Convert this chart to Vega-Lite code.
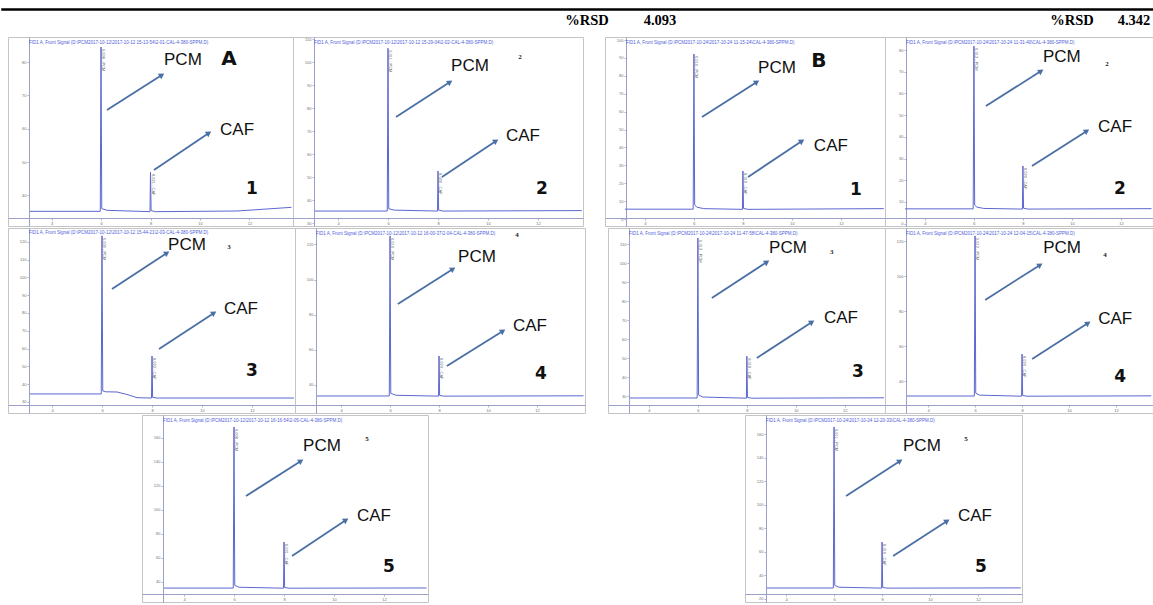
{
  "$schema": "https://vega.github.io/schema/vega-lite/v6.json",
  "padding": {"left": 0, "top": 8, "right": 0, "bottom": 0},
  "spacing": 0,
  "config": {
    "view": {"stroke": "#c4c4c4", "strokeWidth": 1},
    "concat": {"spacing": 0},
    "font": "Liberation Sans",
    "title": {"anchor": "start", "offset": -7, "dx": 21, "fontSize": 4.5, "fontWeight": "normal", "color": "#5060d8", "font": "Liberation Sans"},
    "axis": {"grid": false, "tickSize": 2, "labelFontSize": 4, "labelColor": "#707070", "domainColor": "#9ba0c9", "tickColor": "#9ba0c9", "labelPadding": 1, "domainWidth": 1, "tickWidth": 0.8},
    "axisX": {"offset": -8},
    "axisY": {"offset": -21},
    "scale": {"zero": false}
  },
  "datasets": {
    "d": [
      {"k":"h","c":"r","g":"A","t":"%RSD"},{"k":"h","c":"v","g":"A","t":"4.093"},{"k":"h","c":"r","g":"B","t":"%RSD"},{"k":"h","c":"v","g":"B","t":"4.342"},

      {"p":"A1","k":"c","x":3.13,"y":35.2},{"p":"A1","k":"c","x":5.97,"y":35.2},{"p":"A1","k":"c","x":6.0,"y":84.5,"lab":"6.008 - PCM"},{"p":"A1","k":"c","x":6.03,"y":36.0},{"p":"A1","k":"c","x":6.25,"y":35.5},{"p":"A1","k":"c","x":7.98,"y":35.1},{"p":"A1","k":"c","x":8.0,"y":47,"lab":"8.021 - CAF"},{"p":"A1","k":"c","x":8.025,"y":35.4},{"p":"A1","k":"c","x":8.2,"y":35.1},{"p":"A1","k":"c","x":11.5,"y":35.3},{"p":"A1","k":"c","x":13.7,"y":36.4},
      {"p":"A1","k":"a","x":6.24,"y":65.6,"x2":8.46,"y2":76.1},{"p":"A1","k":"a","x":8.14,"y":47.6,"x2":10.36,"y2":58.7},
      {"p":"A1","k":"l","t":"PCM","x":9.31,"y":80.6},{"p":"A1","k":"l","t":"CAF","x":11.5,"y":59.6},{"p":"A1","k":"b","t":"A","x":11.17,"y":80.9},{"p":"A1","k":"b","t":"1","x":12.1,"y":41.9},

      {"p":"A2","k":"c","x":3.08,"y":35.2},{"p":"A2","k":"c","x":5.97,"y":35.2},{"p":"A2","k":"c","x":6.0,"y":106,"lab":"6.011 - PCM"},{"p":"A2","k":"c","x":6.03,"y":36.2},{"p":"A2","k":"c","x":6.25,"y":35.6},{"p":"A2","k":"c","x":7.98,"y":35.2},{"p":"A2","k":"c","x":8.0,"y":52.6,"lab":"8.024 - CAF"},{"p":"A2","k":"c","x":8.025,"y":35.6},{"p":"A2","k":"c","x":8.2,"y":35.2},{"p":"A2","k":"c","x":13.75,"y":35.4},
      {"p":"A2","k":"a","x":6.32,"y":76.1,"x2":8.48,"y2":91.3},{"p":"A2","k":"a","x":8.16,"y":50.0,"x2":10.32,"y2":65.7},
      {"p":"A2","k":"l","t":"PCM","x":9.28,"y":98.1},{"p":"A2","k":"l","t":"CAF","x":11.4,"y":67.9},{"p":"A2","k":"s","t":"2","x":11.28,"y":102.2},{"p":"A2","k":"b","t":"2","x":12.16,"y":44.8},

      {"p":"B1","k":"c","x":3.19,"y":5.5},{"p":"B1","k":"c","x":5.97,"y":5.5},{"p":"B1","k":"c","x":6.0,"y":92.2,"lab":"6.014 - PCM"},{"p":"B1","k":"c","x":6.03,"y":8.0},{"p":"B1","k":"c","x":6.12,"y":6.6},{"p":"B1","k":"c","x":6.4,"y":5.8},{"p":"B1","k":"c","x":7.98,"y":5.4},{"p":"B1","k":"c","x":8.0,"y":26.8,"lab":"8.019 - CAF"},{"p":"B1","k":"c","x":8.025,"y":5.9},{"p":"B1","k":"c","x":8.2,"y":5.4},{"p":"B1","k":"c","x":13.75,"y":5.8},
      {"p":"B1","k":"a","x":6.33,"y":57.0,"x2":8.57,"y2":76.6},{"p":"B1","k":"a","x":8.21,"y":23.5,"x2":10.41,"y2":43.6},
      {"p":"B1","k":"l","t":"PCM","x":9.39,"y":84.4},{"p":"B1","k":"l","t":"CAF","x":11.59,"y":40.8},{"p":"B1","k":"b","t":"B","x":11.1,"y":88.3},{"p":"B1","k":"b","t":"1","x":12.61,"y":16.2},

      {"p":"B2","k":"c","x":3.19,"y":6.8},{"p":"B2","k":"c","x":5.97,"y":6.8},{"p":"B2","k":"c","x":6.0,"y":81.8,"lab":"6.012 - PCM"},{"p":"B2","k":"c","x":6.03,"y":8.6},{"p":"B2","k":"c","x":6.12,"y":7.6},{"p":"B2","k":"c","x":6.4,"y":7.0},{"p":"B2","k":"c","x":7.98,"y":6.7},{"p":"B2","k":"c","x":8.0,"y":26.6,"lab":"8.020 - CAF"},{"p":"B2","k":"c","x":8.025,"y":7.1},{"p":"B2","k":"c","x":8.2,"y":6.7},{"p":"B2","k":"c","x":13.25,"y":6.9},
      {"p":"B2","k":"a","x":6.49,"y":54.2,"x2":8.74,"y2":70.3},{"p":"B2","k":"a","x":8.37,"y":26.6,"x2":10.61,"y2":42.7},
      {"p":"B2","k":"l","t":"PCM","x":9.59,"y":77.0},{"p":"B2","k":"l","t":"CAF","x":11.76,"y":44.5},{"p":"B2","k":"s","t":"2","x":11.43,"y":73.6},{"p":"B2","k":"b","t":"2","x":11.96,"y":16.0},

      {"p":"A3","k":"c","x":3.12,"y":34.5},{"p":"A3","k":"c","x":5.97,"y":34.5},{"p":"A3","k":"c","x":6.0,"y":123.3,"lab":"6.009 - PCM"},{"p":"A3","k":"c","x":6.03,"y":36.2},{"p":"A3","k":"c","x":6.15,"y":35.7},{"p":"A3","k":"c","x":6.6,"y":35.6},{"p":"A3","k":"c","x":7.0,"y":34.2},{"p":"A3","k":"c","x":7.4,"y":32.4},{"p":"A3","k":"c","x":7.98,"y":32.2},{"p":"A3","k":"c","x":8.0,"y":55.8,"lab":"8.022 - CAF"},{"p":"A3","k":"c","x":8.025,"y":32.6},{"p":"A3","k":"c","x":8.2,"y":32.2},{"p":"A3","k":"c","x":13.68,"y":32.2},
      {"p":"A3","k":"a","x":6.4,"y":93.5,"x2":8.6,"y2":113.7},{"p":"A3","k":"a","x":8.28,"y":59.8,"x2":10.48,"y2":80.0},
      {"p":"A3","k":"l","t":"PCM","x":9.4,"y":118.2},{"p":"A3","k":"l","t":"CAF","x":11.56,"y":82.2},{"p":"A3","k":"s","t":"3","x":11.08,"y":117.1},{"p":"A3","k":"b","t":"3","x":12.0,"y":47.4},

      {"p":"A4","k":"c","x":3.02,"y":33.7},{"p":"A4","k":"c","x":5.97,"y":33.7},{"p":"A4","k":"c","x":6.0,"y":124.9,"lab":"6.010 - PCM"},{"p":"A4","k":"c","x":6.03,"y":35.2},{"p":"A4","k":"c","x":6.25,"y":34.1},{"p":"A4","k":"c","x":7.98,"y":33.6},{"p":"A4","k":"c","x":8.0,"y":56.5,"lab":"8.023 - CAF"},{"p":"A4","k":"c","x":8.025,"y":34.0},{"p":"A4","k":"c","x":8.2,"y":33.6},{"p":"A4","k":"c","x":13.9,"y":33.8},
      {"p":"A4","k":"a","x":6.32,"y":86.1,"x2":8.57,"y2":106.1},{"p":"A4","k":"a","x":8.32,"y":50.8,"x2":10.61,"y2":70.7},
      {"p":"A4","k":"l","t":"PCM","x":9.55,"y":112.9},{"p":"A4","k":"l","t":"CAF","x":11.71,"y":73.6},{"p":"A4","k":"s","t":"4","x":11.18,"y":125.4},{"p":"A4","k":"b","t":"4","x":12.16,"y":46.2},

      {"p":"B3","k":"c","x":3.22,"y":29},{"p":"B3","k":"c","x":5.97,"y":29},{"p":"B3","k":"c","x":6.0,"y":113.2,"lab":"6.013 - PCM"},{"p":"B3","k":"c","x":6.03,"y":30.6},{"p":"B3","k":"c","x":6.2,"y":29.5},{"p":"B3","k":"c","x":7.98,"y":28.9},{"p":"B3","k":"c","x":8.0,"y":51,"lab":"8.018 - CAF"},{"p":"B3","k":"c","x":8.025,"y":29.3},{"p":"B3","k":"c","x":8.2,"y":28.9},{"p":"B3","k":"c","x":13.6,"y":29.1},
      {"p":"B3","k":"a","x":6.57,"y":81.6,"x2":8.82,"y2":100.6},{"p":"B3","k":"a","x":8.41,"y":50.1,"x2":10.66,"y2":69.0},
      {"p":"B3","k":"l","t":"PCM","x":9.68,"y":108.0},{"p":"B3","k":"l","t":"CAF","x":11.84,"y":71.1},{"p":"B3","k":"s","t":"3","x":11.47,"y":105.8},{"p":"B3","k":"b","t":"3","x":12.53,"y":42.7},

      {"p":"B4","k":"c","x":3.1,"y":31.7},{"p":"B4","k":"c","x":5.97,"y":31.7},{"p":"B4","k":"c","x":6.0,"y":123.2,"lab":"6.012 - PCM"},{"p":"B4","k":"c","x":6.03,"y":33.3},{"p":"B4","k":"c","x":6.2,"y":32.2},{"p":"B4","k":"c","x":7.98,"y":31.6},{"p":"B4","k":"c","x":8.0,"y":55.7,"lab":"8.020 - CAF"},{"p":"B4","k":"c","x":8.025,"y":32.0},{"p":"B4","k":"c","x":8.2,"y":31.6},{"p":"B4","k":"c","x":13.5,"y":31.8},
      {"p":"B4","k":"a","x":6.43,"y":86.6,"x2":8.77,"y2":106.6},{"p":"B4","k":"a","x":8.43,"y":52.9,"x2":10.81,"y2":73.4},
      {"p":"B4","k":"l","t":"PCM","x":9.7,"y":116.3},{"p":"B4","k":"l","t":"CAF","x":11.96,"y":75.7},{"p":"B4","k":"s","t":"4","x":11.53,"y":112.3},{"p":"B4","k":"b","t":"4","x":12.17,"y":42.6},

      {"p":"A5","k":"c","x":3.2,"y":34.8},{"p":"A5","k":"c","x":5.97,"y":34.8},{"p":"A5","k":"c","x":6.0,"y":169,"lab":"6.008 - PCM"},{"p":"A5","k":"c","x":6.03,"y":37},{"p":"A5","k":"c","x":6.2,"y":35.5},{"p":"A5","k":"c","x":7.98,"y":34.7},{"p":"A5","k":"c","x":8.0,"y":73.2,"lab":"8.021 - CAF"},{"p":"A5","k":"c","x":8.025,"y":35.3},{"p":"A5","k":"c","x":8.2,"y":34.7},{"p":"A5","k":"c","x":13.7,"y":34.9},
      {"p":"A5","k":"a","x":6.48,"y":111.5,"x2":8.68,"y2":140.7},{"p":"A5","k":"a","x":8.32,"y":61.5,"x2":10.48,"y2":91.5},
      {"p":"A5","k":"l","t":"PCM","x":9.52,"y":153.2},{"p":"A5","k":"l","t":"CAF","x":11.6,"y":94.8},{"p":"A5","k":"s","t":"5","x":11.32,"y":159},{"p":"A5","k":"b","t":"5","x":12.2,"y":52.3},

      {"p":"B5","k":"c","x":3.2,"y":29},{"p":"B5","k":"c","x":5.97,"y":29},{"p":"B5","k":"c","x":6.0,"y":166,"lab":"6.011 - PCM"},{"p":"B5","k":"c","x":6.03,"y":31.2},{"p":"B5","k":"c","x":6.2,"y":29.7},{"p":"B5","k":"c","x":7.98,"y":28.9},{"p":"B5","k":"c","x":8.0,"y":68.1,"lab":"8.019 - CAF"},{"p":"B5","k":"c","x":8.025,"y":29.5},{"p":"B5","k":"c","x":8.2,"y":28.9},{"p":"B5","k":"c","x":13.78,"y":29.1},
      {"p":"B5","k":"a","x":6.5,"y":107.3,"x2":8.75,"y2":137.1},{"p":"B5","k":"a","x":8.46,"y":56.2,"x2":10.71,"y2":86.0},
      {"p":"B5","k":"l","t":"PCM","x":9.66,"y":149.8},{"p":"B5","k":"l","t":"CAF","x":11.87,"y":90.2},{"p":"B5","k":"s","t":"5","x":11.5,"y":155.8},{"p":"B5","k":"b","t":"5","x":12.12,"y":46.8}
    ]
  },
  "vconcat": [
    {
      "width": 1153, "height": 28,
      "view": {"stroke": null},
      "data": {"name": "d"},
      "transform": [{"filter": "datum.k === 'h'"}],
      "layer": [
        {"data": {"values": [{}]}, "mark": {"type": "rule", "color": "black", "strokeWidth": 2.5}, "encoding": {"x": {"value": 1.25}, "x2": {"value": "width"}, "y": {"value": 1.5}}},
        {"transform": [{"filter": "datum.c === 'r'"}], "mark": {"type": "text", "font": "Liberation Serif", "fontWeight": "bold", "fontSize": 14.5, "dy": -1, "color": "black"}, "encoding": {"x": {"field": "g", "type": "nominal", "scale": {"range": [587, 1072], "padding": 0}, "axis": null}, "text": {"field": "t"}}},
        {"transform": [{"filter": "datum.c === 'v'"}], "mark": {"type": "text", "font": "Liberation Serif", "fontWeight": "bold", "fontSize": 14.5, "dy": -1, "color": "black"}, "encoding": {"x": {"field": "g", "type": "nominal", "scale": {"range": [660, 1134], "padding": 0}, "axis": null}, "text": {"field": "t"}}}
      ],
      "resolve": {"scale": {"x": "independent"}}
    },
    {
      "spacing": 0, "bounds": "flush",
      "hconcat": [
        {"width": 8, "height": 2, "view": {"stroke": null}, "data": {"values": [{}]}, "mark": {"type": "point", "opacity": 0, "size": 0}, "encoding": {}},
        {"width": 285, "height": 189, "title": "FID1 A, Front Signal (D:\\PCM2017-10-12\\2017-10-12 15-13-54\\2-01-CAL-4-380-SPPM.D)", "data": {"name": "d"}, "transform": [{"filter": "datum.p === 'A1'"}],
          "encoding": {"x": {"field": "x", "type": "quantitative", "scale": {"domain": [2.24, 13.76], "nice": false, "zero": false}, "axis": {"values": [4, 6, 8, 10, 12], "title": null}}, "y": {"field": "y", "type": "quantitative", "scale": {"domain": [30.8, 87.5], "nice": false, "zero": false}, "axis": {"title": null, "tickCount": 6}}},
          "layer": [
            {"transform": [{"filter": "datum.k === 'c'"}], "mark": {"type": "line", "color": "#5c67d0", "strokeWidth": 1, "clip": true}},
            {"transform": [{"filter": "datum.lab"}], "mark": {"type": "text", "angle": 90, "align": "left", "baseline": "middle", "dx": 2, "dy": -2, "fontSize": 4, "color": "#666"}, "encoding": {"text": {"field": "lab"}}},
            {"transform": [{"filter": "datum.k === 'a'"}], "mark": {"type": "rule", "color": "#4a6fa5", "strokeWidth": 1.8}, "encoding": {"x2": {"field": "x2"}, "y2": {"field": "y2"}}},
            {"transform": [{"filter": "datum.k === 'a'"}], "mark": {"type": "point", "shape": "triangle-right", "angle": -33, "filled": true, "size": 40, "color": "#4a6fa5", "opacity": 1}, "encoding": {"x": {"field": "x2", "type": "quantitative", "axis": {"title": null}}, "y": {"field": "y2", "type": "quantitative", "axis": {"title": null}}}},
            {"transform": [{"filter": "datum.k === 'l'"}], "mark": {"type": "text", "fontSize": 17, "color": "#111", "font": "Liberation Sans"}, "encoding": {"text": {"field": "t"}}},
            {"transform": [{"filter": "datum.k === 'b'"}], "mark": {"type": "text", "fontWeight": "bold", "color": "#111", "font": "DejaVu Sans"}, "encoding": {"text": {"field": "t"}, "size": {"condition": {"test": "datum.t === 'A' || datum.t === 'B'", "value": 20}, "value": 17}}},
            {"transform": [{"filter": "datum.k === 's'"}], "mark": {"type": "text", "fontSize": 7, "font": "Liberation Serif", "fontWeight": "bold", "color": "#222"}, "encoding": {"text": {"field": "t"}}}
          ]},
        {"width": 290, "height": 189, "title": "FID1 A, Front Signal (D:\\PCM2017-10-12\\2017-10-12 15-29-04\\2-02-CAL-4-380-SPPM.D)", "data": {"name": "d"}, "transform": [{"filter": "datum.p === 'A2'"}],
          "encoding": {"x": {"field": "x", "type": "quantitative", "scale": {"domain": [2.2, 13.8], "nice": false, "zero": false}, "axis": {"values": [4, 6, 8, 10, 12], "title": null}}, "y": {"field": "y", "type": "quantitative", "scale": {"domain": [28.7, 110.9], "nice": false, "zero": false}, "axis": {"title": null, "tickCount": 7}}},
          "layer": [
            {"transform": [{"filter": "datum.k === 'c'"}], "mark": {"type": "line", "color": "#5c67d0", "strokeWidth": 1, "clip": true}},
            {"transform": [{"filter": "datum.lab"}], "mark": {"type": "text", "angle": 90, "align": "left", "baseline": "middle", "dx": 2, "dy": -2, "fontSize": 4, "color": "#666"}, "encoding": {"text": {"field": "lab"}}},
            {"transform": [{"filter": "datum.k === 'a'"}], "mark": {"type": "rule", "color": "#4a6fa5", "strokeWidth": 1.8}, "encoding": {"x2": {"field": "x2"}, "y2": {"field": "y2"}}},
            {"transform": [{"filter": "datum.k === 'a'"}], "mark": {"type": "point", "shape": "triangle-right", "angle": -33, "filled": true, "size": 40, "color": "#4a6fa5", "opacity": 1}, "encoding": {"x": {"field": "x2", "type": "quantitative", "axis": {"title": null}}, "y": {"field": "y2", "type": "quantitative", "axis": {"title": null}}}},
            {"transform": [{"filter": "datum.k === 'l'"}], "mark": {"type": "text", "fontSize": 17, "color": "#111", "font": "Liberation Sans"}, "encoding": {"text": {"field": "t"}}},
            {"transform": [{"filter": "datum.k === 'b'"}], "mark": {"type": "text", "fontWeight": "bold", "color": "#111", "font": "DejaVu Sans"}, "encoding": {"text": {"field": "t"}, "size": {"condition": {"test": "datum.t === 'A' || datum.t === 'B'", "value": 20}, "value": 17}}},
            {"transform": [{"filter": "datum.k === 's'"}], "mark": {"type": "text", "fontSize": 7, "font": "Liberation Serif", "fontWeight": "bold", "color": "#222"}, "encoding": {"text": {"field": "t"}}}
          ]},
        {"width": 22, "height": 2, "view": {"stroke": null}, "data": {"values": [{}]}, "mark": {"type": "point", "opacity": 0, "size": 0}, "encoding": {}},
        {"width": 280, "height": 189, "title": "FID1 A, Front Signal (D:\\PCM2017-10-24\\2017-10-24 11-15-24\\CAL-4-380-SPPM.D)", "data": {"name": "d"}, "transform": [{"filter": "datum.p === 'B1'"}],
          "encoding": {"x": {"field": "x", "type": "quantitative", "scale": {"domain": [2.37, 13.8], "nice": false, "zero": false}, "axis": {"values": [4, 6, 8, 10, 12], "title": null}}, "y": {"field": "y", "type": "quantitative", "scale": {"domain": [-3.9, 101.7], "nice": false, "zero": false}, "axis": {"title": null, "tickCount": 9}}},
          "layer": [
            {"transform": [{"filter": "datum.k === 'c'"}], "mark": {"type": "line", "color": "#5c67d0", "strokeWidth": 1, "clip": true}},
            {"transform": [{"filter": "datum.lab"}], "mark": {"type": "text", "angle": 90, "align": "left", "baseline": "middle", "dx": 2, "dy": -2, "fontSize": 4, "color": "#666"}, "encoding": {"text": {"field": "lab"}}},
            {"transform": [{"filter": "datum.k === 'a'"}], "mark": {"type": "rule", "color": "#4a6fa5", "strokeWidth": 1.8}, "encoding": {"x2": {"field": "x2"}, "y2": {"field": "y2"}}},
            {"transform": [{"filter": "datum.k === 'a'"}], "mark": {"type": "point", "shape": "triangle-right", "angle": -33, "filled": true, "size": 40, "color": "#4a6fa5", "opacity": 1}, "encoding": {"x": {"field": "x2", "type": "quantitative", "axis": {"title": null}}, "y": {"field": "y2", "type": "quantitative", "axis": {"title": null}}}},
            {"transform": [{"filter": "datum.k === 'l'"}], "mark": {"type": "text", "fontSize": 17, "color": "#111", "font": "Liberation Sans"}, "encoding": {"text": {"field": "t"}}},
            {"transform": [{"filter": "datum.k === 'b'"}], "mark": {"type": "text", "fontWeight": "bold", "color": "#111", "font": "DejaVu Sans"}, "encoding": {"text": {"field": "t"}, "size": {"condition": {"test": "datum.t === 'A' || datum.t === 'B'", "value": 20}, "value": 17}}},
            {"transform": [{"filter": "datum.k === 's'"}], "mark": {"type": "text", "fontSize": 7, "font": "Liberation Serif", "fontWeight": "bold", "color": "#222"}, "encoding": {"text": {"field": "t"}}}
          ]},
        {"width": 268, "height": 189, "title": "FID1 A, Front Signal (D:\\PCM2017-10-24\\2017-10-24 11-31-40\\CAL-4-380-SPPM.D)", "data": {"name": "d"}, "transform": [{"filter": "datum.p === 'B2'"}],
          "encoding": {"x": {"field": "x", "type": "quantitative", "scale": {"domain": [2.37, 13.31], "nice": false, "zero": false}, "axis": {"values": [4, 6, 8, 10, 12], "title": null}}, "y": {"field": "y", "type": "quantitative", "scale": {"domain": [-1.1, 86], "nice": false, "zero": false}, "axis": {"title": null, "tickCount": 8}}},
          "layer": [
            {"transform": [{"filter": "datum.k === 'c'"}], "mark": {"type": "line", "color": "#5c67d0", "strokeWidth": 1, "clip": true}},
            {"transform": [{"filter": "datum.lab"}], "mark": {"type": "text", "angle": 90, "align": "left", "baseline": "middle", "dx": 2, "dy": -2, "fontSize": 4, "color": "#666"}, "encoding": {"text": {"field": "lab"}}},
            {"transform": [{"filter": "datum.k === 'a'"}], "mark": {"type": "rule", "color": "#4a6fa5", "strokeWidth": 1.8}, "encoding": {"x2": {"field": "x2"}, "y2": {"field": "y2"}}},
            {"transform": [{"filter": "datum.k === 'a'"}], "mark": {"type": "point", "shape": "triangle-right", "angle": -33, "filled": true, "size": 40, "color": "#4a6fa5", "opacity": 1}, "encoding": {"x": {"field": "x2", "type": "quantitative", "axis": {"title": null}}, "y": {"field": "y2", "type": "quantitative", "axis": {"title": null}}}},
            {"transform": [{"filter": "datum.k === 'l'"}], "mark": {"type": "text", "fontSize": 17, "color": "#111", "font": "Liberation Sans"}, "encoding": {"text": {"field": "t"}}},
            {"transform": [{"filter": "datum.k === 'b'"}], "mark": {"type": "text", "fontWeight": "bold", "color": "#111", "font": "DejaVu Sans"}, "encoding": {"text": {"field": "t"}, "size": {"condition": {"test": "datum.t === 'A' || datum.t === 'B'", "value": 20}, "value": 17}}},
            {"transform": [{"filter": "datum.k === 's'"}], "mark": {"type": "text", "fontSize": 7, "font": "Liberation Serif", "fontWeight": "bold", "color": "#222"}, "encoding": {"text": {"field": "t"}}}
          ]}
      ]
    },
    {
      "spacing": 0, "bounds": "flush",
      "hconcat": [
        {"width": 8, "height": 2, "view": {"stroke": null}, "data": {"values": [{}]}, "mark": {"type": "point", "opacity": 0, "size": 0}, "encoding": {}},
        {"width": 287, "height": 185, "title": {"text": "FID1 A, Front Signal (D:\\PCM2017-10-12\\2017-10-12 15-44-21\\2-03-CAL-4-380-SPPM.D)", "offset": -6}, "data": {"name": "d"}, "transform": [{"filter": "datum.p === 'A3'"}],
          "encoding": {"x": {"field": "x", "type": "quantitative", "scale": {"domain": [2.24, 13.72], "nice": false, "zero": false}, "axis": {"values": [4, 6, 8, 10, 12], "title": null}}, "y": {"field": "y", "type": "quantitative", "scale": {"domain": [23.8, 127.7], "nice": false, "zero": false}, "axis": {"title": null, "tickCount": 10}}},
          "layer": [
            {"transform": [{"filter": "datum.k === 'c'"}], "mark": {"type": "line", "color": "#5c67d0", "strokeWidth": 1, "clip": true}},
            {"transform": [{"filter": "datum.lab"}], "mark": {"type": "text", "angle": 90, "align": "left", "baseline": "middle", "dx": 2, "dy": -2, "fontSize": 4, "color": "#666"}, "encoding": {"text": {"field": "lab"}}},
            {"transform": [{"filter": "datum.k === 'a'"}], "mark": {"type": "rule", "color": "#4a6fa5", "strokeWidth": 1.8}, "encoding": {"x2": {"field": "x2"}, "y2": {"field": "y2"}}},
            {"transform": [{"filter": "datum.k === 'a'"}], "mark": {"type": "point", "shape": "triangle-right", "angle": -33, "filled": true, "size": 40, "color": "#4a6fa5", "opacity": 1}, "encoding": {"x": {"field": "x2", "type": "quantitative", "axis": {"title": null}}, "y": {"field": "y2", "type": "quantitative", "axis": {"title": null}}}},
            {"transform": [{"filter": "datum.k === 'l'"}], "mark": {"type": "text", "fontSize": 17, "color": "#111", "font": "Liberation Sans"}, "encoding": {"text": {"field": "t"}}},
            {"transform": [{"filter": "datum.k === 'b'"}], "mark": {"type": "text", "fontWeight": "bold", "color": "#111", "font": "DejaVu Sans"}, "encoding": {"text": {"field": "t"}, "size": {"condition": {"test": "datum.t === 'A' || datum.t === 'B'", "value": 20}, "value": 17}}},
            {"transform": [{"filter": "datum.k === 's'"}], "mark": {"type": "text", "fontSize": 7, "font": "Liberation Serif", "fontWeight": "bold", "color": "#222"}, "encoding": {"text": {"field": "t"}}}
          ]},
        {"width": 290, "height": 185, "title": "FID1 A, Front Signal (D:\\PCM2017-10-12\\2017-10-12 16-00-37\\2-04-CAL-4-380-SPPM.D)", "data": {"name": "d"}, "transform": [{"filter": "datum.p === 'A4'"}],
          "encoding": {"x": {"field": "x", "type": "quantitative", "scale": {"domain": [2.12, 13.96], "nice": false, "zero": false}, "axis": {"values": [4, 6, 8, 10, 12], "title": null}}, "y": {"field": "y", "type": "quantitative", "scale": {"domain": [24, 129.4], "nice": false, "zero": false}, "axis": {"title": null, "tickCount": 6}}},
          "layer": [
            {"transform": [{"filter": "datum.k === 'c'"}], "mark": {"type": "line", "color": "#5c67d0", "strokeWidth": 1, "clip": true}},
            {"transform": [{"filter": "datum.lab"}], "mark": {"type": "text", "angle": 90, "align": "left", "baseline": "middle", "dx": 2, "dy": -2, "fontSize": 4, "color": "#666"}, "encoding": {"text": {"field": "lab"}}},
            {"transform": [{"filter": "datum.k === 'a'"}], "mark": {"type": "rule", "color": "#4a6fa5", "strokeWidth": 1.8}, "encoding": {"x2": {"field": "x2"}, "y2": {"field": "y2"}}},
            {"transform": [{"filter": "datum.k === 'a'"}], "mark": {"type": "point", "shape": "triangle-right", "angle": -33, "filled": true, "size": 40, "color": "#4a6fa5", "opacity": 1}, "encoding": {"x": {"field": "x2", "type": "quantitative", "axis": {"title": null}}, "y": {"field": "y2", "type": "quantitative", "axis": {"title": null}}}},
            {"transform": [{"filter": "datum.k === 'l'"}], "mark": {"type": "text", "fontSize": 17, "color": "#111", "font": "Liberation Sans"}, "encoding": {"text": {"field": "t"}}},
            {"transform": [{"filter": "datum.k === 'b'"}], "mark": {"type": "text", "fontWeight": "bold", "color": "#111", "font": "DejaVu Sans"}, "encoding": {"text": {"field": "t"}, "size": {"condition": {"test": "datum.t === 'A' || datum.t === 'B'", "value": 20}, "value": 17}}},
            {"transform": [{"filter": "datum.k === 's'"}], "mark": {"type": "text", "fontSize": 7, "font": "Liberation Serif", "fontWeight": "bold", "color": "#222"}, "encoding": {"text": {"field": "t"}}}
          ]},
        {"width": 23, "height": 2, "view": {"stroke": null}, "data": {"values": [{}]}, "mark": {"type": "point", "opacity": 0, "size": 0}, "encoding": {}},
        {"width": 277, "height": 185, "title": "FID1 A, Front Signal (D:\\PCM2017-10-24\\2017-10-24 11-47-58\\CAL-4-380-SPPM.D)", "data": {"name": "d"}, "transform": [{"filter": "datum.p === 'B3'"}],
          "encoding": {"x": {"field": "x", "type": "quantitative", "scale": {"domain": [2.33, 13.64], "nice": false, "zero": false}, "axis": {"values": [4, 6, 8, 10, 12], "title": null}}, "y": {"field": "y", "type": "quantitative", "scale": {"domain": [21.1, 118.5], "nice": false, "zero": false}, "axis": {"title": null, "tickCount": 9}}},
          "layer": [
            {"transform": [{"filter": "datum.k === 'c'"}], "mark": {"type": "line", "color": "#5c67d0", "strokeWidth": 1, "clip": true}},
            {"transform": [{"filter": "datum.lab"}], "mark": {"type": "text", "angle": 90, "align": "left", "baseline": "middle", "dx": 2, "dy": -2, "fontSize": 4, "color": "#666"}, "encoding": {"text": {"field": "lab"}}},
            {"transform": [{"filter": "datum.k === 'a'"}], "mark": {"type": "rule", "color": "#4a6fa5", "strokeWidth": 1.8}, "encoding": {"x2": {"field": "x2"}, "y2": {"field": "y2"}}},
            {"transform": [{"filter": "datum.k === 'a'"}], "mark": {"type": "point", "shape": "triangle-right", "angle": -33, "filled": true, "size": 40, "color": "#4a6fa5", "opacity": 1}, "encoding": {"x": {"field": "x2", "type": "quantitative", "axis": {"title": null}}, "y": {"field": "y2", "type": "quantitative", "axis": {"title": null}}}},
            {"transform": [{"filter": "datum.k === 'l'"}], "mark": {"type": "text", "fontSize": 17, "color": "#111", "font": "Liberation Sans"}, "encoding": {"text": {"field": "t"}}},
            {"transform": [{"filter": "datum.k === 'b'"}], "mark": {"type": "text", "fontWeight": "bold", "color": "#111", "font": "DejaVu Sans"}, "encoding": {"text": {"field": "t"}, "size": {"condition": {"test": "datum.t === 'A' || datum.t === 'B'", "value": 20}, "value": 17}}},
            {"transform": [{"filter": "datum.k === 's'"}], "mark": {"type": "text", "fontSize": 7, "font": "Liberation Serif", "fontWeight": "bold", "color": "#222"}, "encoding": {"text": {"field": "t"}}}
          ]},
        {"width": 268, "height": 185, "title": "FID1 A, Front Signal (D:\\PCM2017-10-24\\2017-10-24 12-04-15\\CAL-4-380-SPPM.D)", "data": {"name": "d"}, "transform": [{"filter": "datum.p === 'B4'"}],
          "encoding": {"x": {"field": "x", "type": "quantitative", "scale": {"domain": [2.17, 13.57], "nice": false, "zero": false}, "axis": {"values": [4, 6, 8, 10, 12], "title": null}}, "y": {"field": "y", "type": "quantitative", "scale": {"domain": [22, 127.7], "nice": false, "zero": false}, "axis": {"title": null, "tickCount": 6}}},
          "layer": [
            {"transform": [{"filter": "datum.k === 'c'"}], "mark": {"type": "line", "color": "#5c67d0", "strokeWidth": 1, "clip": true}},
            {"transform": [{"filter": "datum.lab"}], "mark": {"type": "text", "angle": 90, "align": "left", "baseline": "middle", "dx": 2, "dy": -2, "fontSize": 4, "color": "#666"}, "encoding": {"text": {"field": "lab"}}},
            {"transform": [{"filter": "datum.k === 'a'"}], "mark": {"type": "rule", "color": "#4a6fa5", "strokeWidth": 1.8}, "encoding": {"x2": {"field": "x2"}, "y2": {"field": "y2"}}},
            {"transform": [{"filter": "datum.k === 'a'"}], "mark": {"type": "point", "shape": "triangle-right", "angle": -33, "filled": true, "size": 40, "color": "#4a6fa5", "opacity": 1}, "encoding": {"x": {"field": "x2", "type": "quantitative", "axis": {"title": null}}, "y": {"field": "y2", "type": "quantitative", "axis": {"title": null}}}},
            {"transform": [{"filter": "datum.k === 'l'"}], "mark": {"type": "text", "fontSize": 17, "color": "#111", "font": "Liberation Sans"}, "encoding": {"text": {"field": "t"}}},
            {"transform": [{"filter": "datum.k === 'b'"}], "mark": {"type": "text", "fontWeight": "bold", "color": "#111", "font": "DejaVu Sans"}, "encoding": {"text": {"field": "t"}, "size": {"condition": {"test": "datum.t === 'A' || datum.t === 'B'", "value": 20}, "value": 17}}},
            {"transform": [{"filter": "datum.k === 's'"}], "mark": {"type": "text", "fontSize": 7, "font": "Liberation Serif", "fontWeight": "bold", "color": "#222"}, "encoding": {"text": {"field": "t"}}}
          ]}
      ]
    },
    {
      "spacing": 0, "bounds": "flush",
      "hconcat": [
        {"width": 142, "height": 2, "view": {"stroke": null}, "data": {"values": [{}]}, "mark": {"type": "point", "opacity": 0, "size": 0}, "encoding": {}},
        {"width": 286, "height": 187, "title": "FID1 A, Front Signal (D:\\PCM2017-10-12\\2017-10-12 16-16-54\\2-05-CAL-4-380-SPPM.D)", "data": {"name": "d"}, "transform": [{"filter": "datum.p === 'A5'"}],
          "encoding": {"x": {"field": "x", "type": "quantitative", "scale": {"domain": [2.32, 13.76], "nice": false, "zero": false}, "axis": {"values": [4, 6, 8, 10, 12], "title": null}}, "y": {"field": "y", "type": "quantitative", "scale": {"domain": [23.2, 179], "nice": false, "zero": false}, "axis": {"title": null, "tickCount": 7}}},
          "layer": [
            {"transform": [{"filter": "datum.k === 'c'"}], "mark": {"type": "line", "color": "#5c67d0", "strokeWidth": 1, "clip": true}},
            {"transform": [{"filter": "datum.lab"}], "mark": {"type": "text", "angle": 90, "align": "left", "baseline": "middle", "dx": 2, "dy": -2, "fontSize": 4, "color": "#666"}, "encoding": {"text": {"field": "lab"}}},
            {"transform": [{"filter": "datum.k === 'a'"}], "mark": {"type": "rule", "color": "#4a6fa5", "strokeWidth": 1.8}, "encoding": {"x2": {"field": "x2"}, "y2": {"field": "y2"}}},
            {"transform": [{"filter": "datum.k === 'a'"}], "mark": {"type": "point", "shape": "triangle-right", "angle": -33, "filled": true, "size": 40, "color": "#4a6fa5", "opacity": 1}, "encoding": {"x": {"field": "x2", "type": "quantitative", "axis": {"title": null}}, "y": {"field": "y2", "type": "quantitative", "axis": {"title": null}}}},
            {"transform": [{"filter": "datum.k === 'l'"}], "mark": {"type": "text", "fontSize": 17, "color": "#111", "font": "Liberation Sans"}, "encoding": {"text": {"field": "t"}}},
            {"transform": [{"filter": "datum.k === 'b'"}], "mark": {"type": "text", "fontWeight": "bold", "color": "#111", "font": "DejaVu Sans"}, "encoding": {"text": {"field": "t"}, "size": {"condition": {"test": "datum.t === 'A' || datum.t === 'B'", "value": 20}, "value": 17}}},
            {"transform": [{"filter": "datum.k === 's'"}], "mark": {"type": "text", "fontSize": 7, "font": "Liberation Serif", "fontWeight": "bold", "color": "#222"}, "encoding": {"text": {"field": "t"}}}
          ]},
        {"width": 317, "height": 2, "view": {"stroke": null}, "data": {"values": [{}]}, "mark": {"type": "point", "opacity": 0, "size": 0}, "encoding": {}},
        {"width": 277, "height": 187, "title": "FID1 A, Front Signal (D:\\PCM2017-10-24\\2017-10-24 12-20-33\\CAL-4-380-SPPM.D)", "data": {"name": "d"}, "transform": [{"filter": "datum.p === 'B5'"}],
          "encoding": {"x": {"field": "x", "type": "quantitative", "scale": {"domain": [2.29, 13.83], "nice": false, "zero": false}, "axis": {"values": [4, 6, 8, 10, 12], "title": null}}, "y": {"field": "y", "type": "quantitative", "scale": {"domain": [17.1, 176.2], "nice": false, "zero": false}, "axis": {"title": null, "tickCount": 7}}},
          "layer": [
            {"transform": [{"filter": "datum.k === 'c'"}], "mark": {"type": "line", "color": "#5c67d0", "strokeWidth": 1, "clip": true}},
            {"transform": [{"filter": "datum.lab"}], "mark": {"type": "text", "angle": 90, "align": "left", "baseline": "middle", "dx": 2, "dy": -2, "fontSize": 4, "color": "#666"}, "encoding": {"text": {"field": "lab"}}},
            {"transform": [{"filter": "datum.k === 'a'"}], "mark": {"type": "rule", "color": "#4a6fa5", "strokeWidth": 1.8}, "encoding": {"x2": {"field": "x2"}, "y2": {"field": "y2"}}},
            {"transform": [{"filter": "datum.k === 'a'"}], "mark": {"type": "point", "shape": "triangle-right", "angle": -33, "filled": true, "size": 40, "color": "#4a6fa5", "opacity": 1}, "encoding": {"x": {"field": "x2", "type": "quantitative", "axis": {"title": null}}, "y": {"field": "y2", "type": "quantitative", "axis": {"title": null}}}},
            {"transform": [{"filter": "datum.k === 'l'"}], "mark": {"type": "text", "fontSize": 17, "color": "#111", "font": "Liberation Sans"}, "encoding": {"text": {"field": "t"}}},
            {"transform": [{"filter": "datum.k === 'b'"}], "mark": {"type": "text", "fontWeight": "bold", "color": "#111", "font": "DejaVu Sans"}, "encoding": {"text": {"field": "t"}, "size": {"condition": {"test": "datum.t === 'A' || datum.t === 'B'", "value": 20}, "value": 17}}},
            {"transform": [{"filter": "datum.k === 's'"}], "mark": {"type": "text", "fontSize": 7, "font": "Liberation Serif", "fontWeight": "bold", "color": "#222"}, "encoding": {"text": {"field": "t"}}}
          ]}
      ]
    }
  ]
}
